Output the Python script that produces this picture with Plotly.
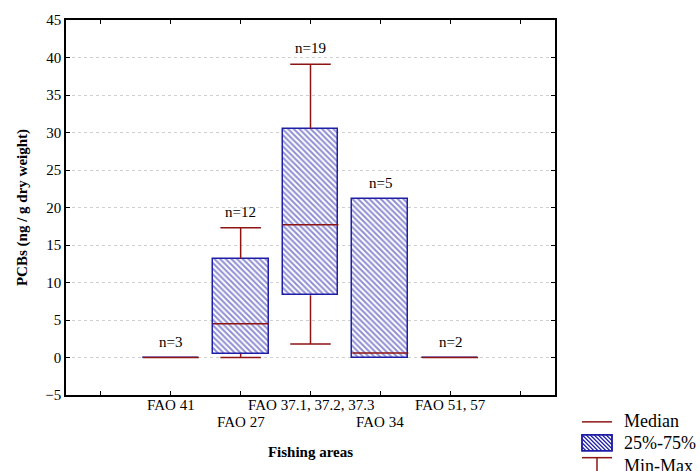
import plotly.graph_objects as go

# PCB concentrations by fishing area: min, quartiles, median, max and sample size
areas = ["FAO 41", "FAO 27", "FAO 37.1, 37.2, 37.3", "FAO 34", "FAO 51, 57"]
positions = [1, 2, 3, 4, 5]
v_min = [0.0, 0.0, 1.8, 0.0, 0.0]
q1 = [0.0, 0.5, 8.3, 0.0, 0.0]
median = [0.0, 4.5, 17.7, 0.6, 0.0]
q3 = [0.0, 13.2, 30.5, 21.1, 0.0]
v_max = [0.0, 17.3, 39.1, 21.1, 0.0]
n_obs = [3, 12, 19, 5, 2]

BLUE = "#1e1ea6"
RED = "#8e1414"
FONT = "Liberation Serif, Times New Roman, serif"
BOX_W = 0.8
CAP_W = 0.58

fig = go.Figure()

# interquartile boxes with diagonal hatching
fig.add_trace(go.Bar(
    x=positions,
    base=q1,
    y=[b - a for a, b in zip(q1, q3)],
    width=BOX_W,
    marker=dict(
        color="white",
        line=dict(color=BLUE, width=1.5),
        pattern=dict(shape="\\", fgcolor=BLUE, bgcolor="white", size=4, solidity=0.5),
    ),
    showlegend=False,
    hoverinfo="skip",
))

# whiskers and caps (only where the whisker extends beyond the box)
wx, wy = [], []
for p, lo, a, b, hi in zip(positions, v_min, q1, q3, v_max):
    if a > lo:
        wx += [p, p, None, p - CAP_W / 2, p + CAP_W / 2, None]
        wy += [lo, a, None, lo, lo, None]
    if hi > b:
        wx += [p, p, None, p - CAP_W / 2, p + CAP_W / 2, None]
        wy += [b, hi, None, hi, hi, None]
fig.add_trace(go.Scatter(x=wx, y=wy, mode="lines", line=dict(color=RED, width=1.5),
                         showlegend=False, hoverinfo="skip"))

# medians
mx, my = [], []
for p, m in zip(positions, median):
    mx += [p - BOX_W / 2, p + BOX_W / 2, None]
    my += [m, m, None]
fig.add_trace(go.Scatter(x=mx, y=my, mode="lines", line=dict(color=RED, width=1.5),
                         showlegend=False, hoverinfo="skip"))

# sample-size labels above each group
for p, hi, n in zip(positions, v_max, n_obs):
    fig.add_annotation(x=p, y=hi, text=f"n={n}", showarrow=False, yanchor="bottom",
                       yshift=6, font=dict(family=FONT, size=15, color="black"))

# staggered category labels (alternate rows)
for i, (p, name) in enumerate(zip(positions, areas)):
    fig.add_annotation(x=p, xref="x", y=-0.027 if i % 2 == 0 else -0.072, yref="paper",
                       text=name, showarrow=False, yanchor="middle",
                       font=dict(family=FONT, size=15, color="black"))

# legend drawn in the lower-right corner
def px(x):
    return (x - 66) / 489

def py(y):
    return (395 - y) / 377

fig.add_shape(type="line", xref="paper", yref="paper", x0=px(582), x1=px(612),
              y0=py(422), y1=py(422), line=dict(color=RED, width=1.5))
fig.add_shape(type="rect", xref="paper", yref="paper", x0=px(582), x1=px(612),
              y0=py(451), y1=py(435), line=dict(color=BLUE, width=1.5),
              fillcolor="white")
# hatch lines inside the legend swatch ("\" direction, 4 px apart)
L, R, T, B = 582, 612, 435, 451
segs = []
for k in range(-(B - T), R - L, 4):
    x0, y0 = L + k, T
    if x0 < L:
        y0 = T + (L - x0)
        x0 = L
    x1, y1 = L + k + (B - T), B
    if x1 > R:
        y1 = B - (x1 - R)
        x1 = R
    if x1 > x0:
        segs.append(f"M{px(x0)},{py(y0)} L{px(x1)},{py(y1)}")
fig.add_shape(type="path", xref="paper", yref="paper", path=" ".join(segs),
              line=dict(color=BLUE, width=1.2))
fig.add_shape(type="rect", xref="paper", yref="paper", x0=px(582), x1=px(612),
              y0=py(451), y1=py(435), line=dict(color=BLUE, width=1.5))
fig.add_shape(type="line", xref="paper", yref="paper", x0=px(582), x1=px(612),
              y0=py(458), y1=py(458), line=dict(color=RED, width=1.5))
fig.add_shape(type="line", xref="paper", yref="paper", x0=px(597), x1=px(597),
              y0=py(458), y1=py(480), line=dict(color=RED, width=1.5))
for label, yy in [("Median", 421), ("25%-75%", 443), ("Min-Max", 466)]:
    fig.add_annotation(xref="paper", yref="paper", x=px(622), y=py(yy), text=label,
                       showarrow=False, xanchor="left", yanchor="middle",
                       font=dict(family=FONT, size=18, color="black"))

fig.update_layout(
    width=700, height=471,
    margin=dict(l=66, r=145, t=18, b=76),
    paper_bgcolor="white", plot_bgcolor="white",
    font=dict(family=FONT, size=15, color="black"),
    bargap=0,
)
fig.update_xaxes(
    range=[-0.5, 6.5], tickvals=[0, 1, 2, 3, 4, 5, 6], ticktext=[""] * 7,
    ticks="inside", ticklen=4, tickcolor="black", showgrid=False, zeroline=False,
    showline=True, linecolor="black", linewidth=1.5, mirror="ticks",
    title=dict(text="<b>Fishing areas</b>", font=dict(family=FONT, size=15), standoff=48),
)
fig.update_yaxes(
    range=[-5, 45], tickvals=list(range(-5, 46, 5)),
    ticks="inside", ticklen=4, tickcolor="black",
    showgrid=True, gridcolor="#d0d0d0", griddash="dot", gridwidth=1, zeroline=False,
    showline=True, linecolor="black", linewidth=1.5, mirror="ticks",
    tickfont=dict(family=FONT, size=15),
    title=dict(text="<b>PCBs (ng / g dry weight)</b>", font=dict(family=FONT, size=15), standoff=14),
)

fig.write_html("out.html")
